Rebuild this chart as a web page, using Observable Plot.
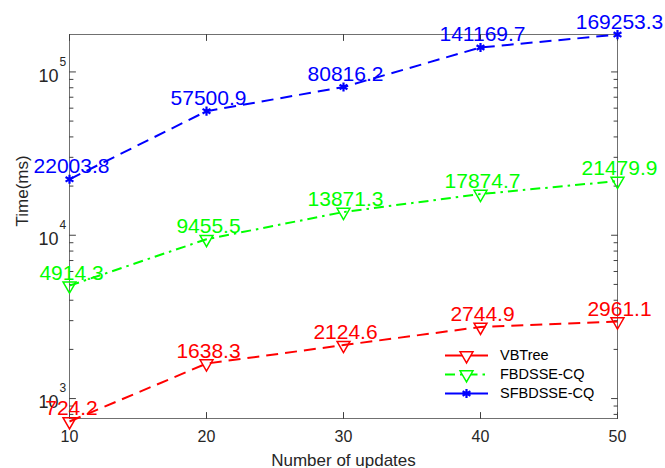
<!DOCTYPE html>
<html><head><meta charset="utf-8">
<script src="https://cdn.jsdelivr.net/npm/d3@7"></script>
<script src="https://cdn.jsdelivr.net/npm/@observablehq/plot@0.6"></script>
<style>
body{margin:0;background:#fff;}
#wrap{position:relative;width:665px;height:468px;font-family:"Liberation Sans",Arial,sans-serif;}
#legend{position:absolute;left:445px;top:345.5px;font-size:14.5px;color:#000;}
.row{display:flex;align-items:center;height:19px;}
.row svg{margin-right:12px;overflow:visible;}
</style></head><body><div id="wrap"><div id="legend"></div></div>
<script>
// ---- data ----
const updates = [10, 20, 30, 40, 50];
const vbtree = [724.2, 1638.3, 2124.6, 2744.9, 2961.1];
const fbdsse = [4914.3, 9455.5, 13871.3, 17874.7, 21479.9];
const sfbdsse = [22003.8, 57500.9, 80816.2, 141169.7, 169253.3];
const seriesNames = ["VBTree", "FBDSSE-CQ", "SFBDSSE-CQ"];
const xTicks = [10, 20, 30, 40, 50];
const yMajor = [1000, 10000, 100000];
const yExponents = ["3", "4", "5"];
const yMinor = [800, 900, 2000, 3000, 4000, 5000, 6000, 7000, 8000, 9000,
  20000, 30000, 40000, 50000, 60000, 70000, 80000, 90000];

const colors = ["#ff0000", "#00ff00", "#0000ff"];
const dashes = ["12,7", "10,5,2.5,5", "12,7"];
const values = [vbtree, fbdsse, sfbdsse];
const series = seriesNames.map((name, k) => ({
  name, color: colors[k], dash: dashes[k],
  rows: updates.map((x, i) => ({x, y: values[k][i], name}))
}));

const fmt = d3.format(".1f");
const tickShape = {draw(ctx, l) { ctx.moveTo(0, 0); ctx.lineTo(0, -l); }};
const tk = {stroke: "#404040", strokeWidth: 1, anchor: "start", shape: tickShape};
const axisFont = {fontFamily: "Liberation Sans, Arial, sans-serif", fill: "#262626"};

const marks = [
  Plot.frame({stroke: "#707070", strokeWidth: 1}),
  // x ticks (inside, bottom & top)
  Plot.vector(xTicks, {x: d => d, frameAnchor: "bottom", length: 6, rotate: 0, ...tk}),
  Plot.vector(xTicks, {x: d => d, frameAnchor: "top", length: 6, rotate: 180, ...tk}),
  // y major ticks
  Plot.vector(yMajor, {y: d => d, frameAnchor: "left", length: 6, rotate: 90, ...tk}),
  Plot.vector(yMajor, {y: d => d, frameAnchor: "right", length: 6, rotate: -90, ...tk}),
  // y minor ticks
  Plot.vector(yMinor, {y: d => d, frameAnchor: "left", length: 3.5, rotate: 90, ...tk}),
  Plot.vector(yMinor, {y: d => d, frameAnchor: "right", length: 3.5, rotate: -90, ...tk}),
  // x tick labels
  Plot.text(xTicks, {x: d => d, text: d => String(d), frameAnchor: "bottom", lineAnchor: "top", dy: 12, fontSize: 16, ...axisFont}),
  // y tick labels 10^n
  Plot.text(yMajor, {y: d => d, text: () => "10", frameAnchor: "left", textAnchor: "end", lineAnchor: "middle", dx: -11, dy: 4, fontSize: 18, ...axisFont}),
  Plot.text(yMajor, {y: d => d, text: (d, i) => yExponents[i], frameAnchor: "left", textAnchor: "start", lineAnchor: "middle", dx: -10, dy: -10, fontSize: 12, ...axisFont}),
  // axis titles
  Plot.text(["Number of updates"], {text: d => d, frameAnchor: "bottom", lineAnchor: "bottom", dy: 47, fontSize: 17, ...axisFont}),
  Plot.text(["Time(ms)"], {text: d => d, frameAnchor: "left", rotate: -90, lineAnchor: "middle", dx: -47, fontSize: 17, ...axisFont}),
];

for (const s of series) {
  marks.push(Plot.line(s.rows, {x: "x", y: "y", stroke: s.color, strokeWidth: 2, strokeDasharray: s.dash, strokeLinecap: "butt"}));
}
for (const s of series) {
  if (s.name === "SFBDSSE-CQ") {
    marks.push(Plot.dot(s.rows, {x: "x", y: "y", symbol: "asterisk", r: 4.3, stroke: s.color, strokeWidth: 2.2, fill: s.color}));
  } else {
    marks.push(Plot.dot(s.rows, {x: "x", y: "y", symbol: "triangle", rotate: 180, r: 4.8, stroke: s.color, strokeWidth: 1.5, fill: "none"}));
  }
}
for (const s of series) {
  marks.push(Plot.text(s.rows, {x: "x", y: "y", text: d => fmt(d.y), fill: s.color, fontSize: 21,
    fontFamily: "Liberation Sans, Arial, sans-serif", textAnchor: "middle", lineAnchor: "bottom", dx: 2, dy: -6}));
}

const chart = Plot.plot({
  width: 665, height: 468,
  marginLeft: 69, marginRight: 48, marginTop: 34, marginBottom: 50,
  style: {fontFamily: "Liberation Sans, Arial, sans-serif", overflow: "visible", background: "#fff"},
  x: {domain: [10, 50], axis: null},
  y: {type: "log", domain: [755, 169500], axis: null},
  marks
});
document.getElementById("wrap").prepend(chart);

// legend
const legend = document.getElementById("legend");
for (const s of series) {
  const row = document.createElement("div");
  row.className = "row";
  const svg = d3.create("svg").attr("width", 43).attr("height", 19);
  svg.append("line").attr("x1", 0).attr("x2", 43).attr("y1", 9.5).attr("y2", 9.5)
    .attr("stroke", s.color).attr("stroke-width", 2).attr("stroke-dasharray", s.name === "FBDSSE-CQ" ? "10,5,2.5,5" : null);
  if (s.name === "SFBDSSE-CQ") {
    svg.append("path").attr("transform", "translate(21.5,9.5)").attr("d", d3.symbol(d3.symbolAsterisk, Math.PI * 4.3 * 4.3)())
      .attr("stroke", s.color).attr("stroke-width", 2.2).attr("fill", s.color);
  } else {
    svg.append("path").attr("transform", "translate(21.5,9.5) rotate(180)").attr("d", d3.symbol(d3.symbolTriangle, Math.PI * 4.8 * 4.8)())
      .attr("stroke", s.color).attr("stroke-width", 1.5).attr("fill", "#fff");
  }
  row.appendChild(svg.node());
  const span = document.createElement("span");
  span.textContent = s.name;
  row.appendChild(span);
  legend.appendChild(row);
}
</script></body></html>
